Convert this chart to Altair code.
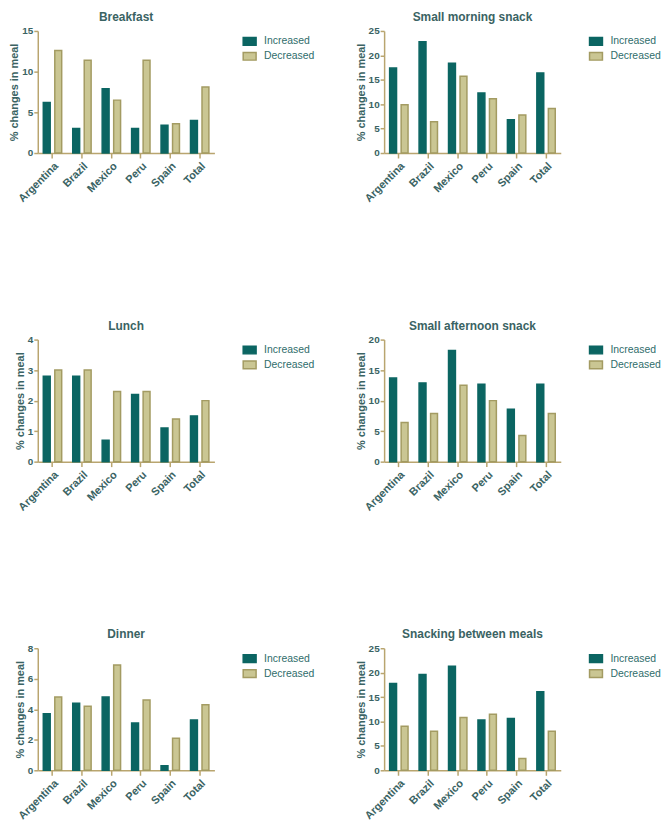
import altair as alt
import pandas as pd

countries = ["Argentina", "Brazil", "Mexico", "Peru", "Spain", "Total"]
series = ["Increased", "Decreased"]

breakfast_inc = [6.2, 3.0, 7.9, 3.0, 3.4, 4.0]
breakfast_dec = [12.6, 11.4, 6.5, 11.4, 3.6, 8.1]
morning_inc = [17.4, 22.8, 18.4, 12.3, 6.8, 16.4]
morning_dec = [9.9, 6.4, 15.7, 11.1, 7.8, 9.1]
lunch_inc = [2.8, 2.8, 0.7, 2.2, 1.1, 1.5]
lunch_dec = [3.0, 3.0, 2.3, 2.3, 1.4, 2.0]
afternoon_inc = [13.7, 12.9, 18.2, 12.7, 8.6, 12.7]
afternoon_dec = [6.4, 7.9, 12.5, 10.0, 4.3, 7.9]
dinner_inc = [3.7, 4.4, 4.8, 3.1, 0.3, 3.3]
dinner_dec = [4.8, 4.2, 6.9, 4.6, 2.1, 4.3]
snacking_inc = [17.8, 19.6, 21.3, 10.3, 10.6, 16.1]
snacking_dec = [9.0, 8.0, 10.8, 11.5, 2.4, 8.0]

TEAL = "#0b6562"
KHAKI = "#cac693"
KHAKI_STROKE = "#a39b62"
AXIS = "#b9a56f"
TEXT = "#3a6363"
FONT = "Liberation Sans"
W = 178
H = 123


def panel(title, inc, dec, ymax, step):
    df = pd.DataFrame({
        "country": countries * 2,
        "type": ["Increased"] * len(countries) + ["Decreased"] * len(countries),
        "value": inc + dec,
    })
    legend = alt.Legend(
        title=None, orient="none", legendX=W + 28, legendY=3, padding=0,
        symbolType="M-1,-0.6L1,-0.6L1,0.6L-1,0.6Z", symbolSize=169,
        symbolStrokeWidth=1.5, labelFontSize=10.5, labelColor="#2f6d6b",
        labelFont=FONT, rowPadding=0, labelOffset=7,
    )
    return alt.Chart(df, title=alt.Title(
        title, fontSize=12, fontWeight="bold", color=TEXT, font=FONT,
        anchor="middle", offset=2,
    )).mark_bar(strokeWidth=1.5).encode(
        x=alt.X("country:N", sort=countries, title=None,
                scale=alt.Scale(paddingInner=0, paddingOuter=0),
                axis=alt.Axis(labelAngle=-45, labelAlign="right", labelBaseline="top",
                              tickSize=5, labelPadding=2, labelFontSize=11)),
        xOffset=alt.XOffset("type:N", sort=series,
                            scale=alt.Scale(paddingInner=0.4, paddingOuter=0.48)),
        y=alt.Y("value:Q", title="% changes in meal",
                scale=alt.Scale(domain=[0, ymax], nice=False),
                axis=alt.Axis(values=list(range(0, ymax + 1, step)), tickSize=4,
                              labelPadding=1, titlePadding=2)),
        color=alt.Color("type:N", sort=series,
                        scale=alt.Scale(domain=series, range=[TEAL, KHAKI]),
                        legend=legend),
        stroke=alt.Stroke("type:N", sort=series,
                          scale=alt.Scale(domain=series, range=[TEAL, KHAKI_STROKE]),
                          legend=legend),
    ).properties(width=W, height=H)


def row(a, b):
    return alt.hconcat(a, b, spacing=40).resolve_scale(
        color="independent", stroke="independent", y="independent"
    ).resolve_legend(color="independent", stroke="independent")


row1 = row(panel("Breakfast", breakfast_inc, breakfast_dec, 15, 5),
           panel("Small morning snack", morning_inc, morning_dec, 25, 5))
row2 = row(panel("Lunch", lunch_inc, lunch_dec, 4, 1),
           panel("Small afternoon snack", afternoon_inc, afternoon_dec, 20, 5))
row3 = row(panel("Dinner", dinner_inc, dinner_dec, 8, 2),
           panel("Snacking between meals", snacking_inc, snacking_dec, 25, 5))

chart = alt.vconcat(row1, row2, row3, spacing=116).resolve_scale(
    color="independent", stroke="independent", y="independent"
).resolve_legend(color="independent", stroke="independent").properties(
    padding={"left": 0, "top": 0, "right": 0, "bottom": 0}
).configure_view(stroke=None).configure_axis(
    grid=False,
    domainColor=AXIS, tickColor=AXIS, domainWidth=1.5, tickWidth=1.5,
    labelColor=TEXT, titleColor=TEXT, labelFont=FONT, titleFont=FONT,
    labelFontSize=10, labelFontWeight="bold", titleFontSize=11, titleFontWeight="bold",
)

chart.save("out.html", embed_options={"renderer": "svg", "actions": False})
